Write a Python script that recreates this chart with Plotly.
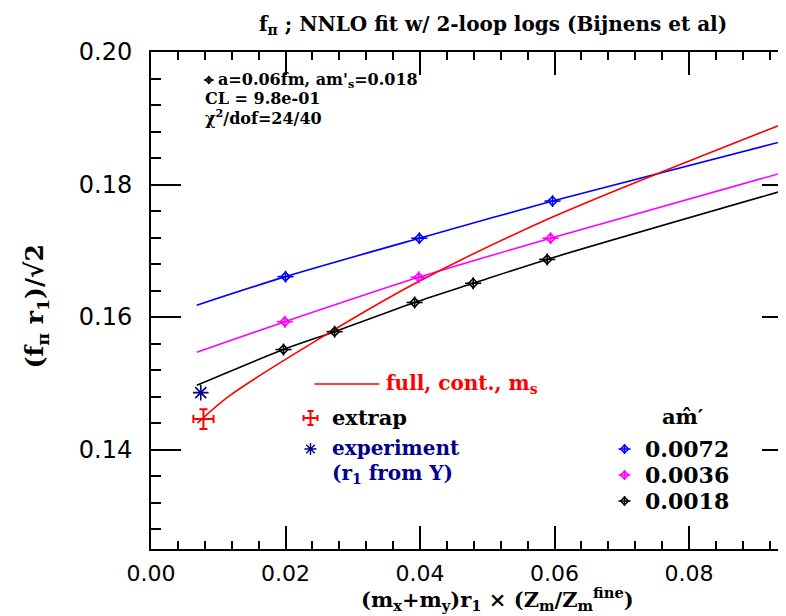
import plotly.graph_objects as go

# ---------------- data ----------------
# fit curves
blue_fit_x = [0.0068, 0.0200, 0.0399, 0.0597, 0.0953]
blue_fit_y = [0.1618, 0.1661, 0.1719, 0.1775, 0.1869]
mag_fit_x = [0.0068, 0.0199, 0.0398, 0.0594, 0.0943]
mag_fit_y = [0.1547, 0.1593, 0.1660, 0.1719, 0.1819]
blk_fit_x = [0.0068, 0.0197, 0.0273, 0.0392, 0.0479, 0.0589, 0.0934]
blk_fit_y = [0.1497, 0.1551, 0.1578, 0.1622, 0.1651, 0.1687, 0.1789]
red_fit_x = [0.0069, 0.0115, 0.0248, 0.0393, 0.0597, 0.0943]
red_fit_y = [0.1440, 0.1480, 0.1566, 0.1651, 0.1751, 0.1893]

# data points
blue_x = [0.0200, 0.0399, 0.0597]
blue_y = [0.1661, 0.1719, 0.1775]
mag_x = [0.0199, 0.0398, 0.0594]
mag_y = [0.1593, 0.1660, 0.1719]
blk_x = [0.0197, 0.0273, 0.0392, 0.0479, 0.0589]
blk_y = [0.1551, 0.1578, 0.1622, 0.1651, 0.1687]
pt_err_x = 0.0012
pt_err_y = 0.0009

extrap_x = [0.0078]
extrap_y = [0.1446]
extrap_err_x = [0.0015]
extrap_err_y = [0.0015]

expt_x = [0.0074]
expt_y = [0.1486]

x_ticks = [0.00, 0.02, 0.04, 0.06, 0.08]
y_ticks = [0.14, 0.16, 0.18, 0.20]

BLUE = "#0000FF"
MAG = "#FF00FF"
BLK = "#000000"
RED = "#FF0000"
NAVY = "#00008B"
SERIF = "DejaVu Serif"
SANS = "DejaVu Sans"

# plot area in pixels
L, R, T, B = 143, 786, 44, 541
W, H = 786, 616


def px(p):
    return (p - L) / (R - L)


def py(p):
    return (B - p) / (B - T)


fig = go.Figure()

# fit curves
for xs, ys, c in [(blue_fit_x, blue_fit_y, BLUE), (mag_fit_x, mag_fit_y, MAG),
                  (blk_fit_x, blk_fit_y, BLK), (red_fit_x, red_fit_y, RED)]:
    fig.add_trace(go.Scatter(x=xs, y=ys, mode="lines",
                             line=dict(color=c, width=1.6, shape="spline", smoothing=0.8),
                             hoverinfo="skip", showlegend=False))

# data points
for xs, ys, c in [(blue_x, blue_y, BLUE), (mag_x, mag_y, MAG), (blk_x, blk_y, BLK)]:
    fig.add_trace(go.Scatter(
        x=xs, y=ys, mode="markers",
        marker=dict(symbol="diamond-open", size=7, color=c, line=dict(width=1.6, color=c)),
        error_x=dict(type="constant", value=pt_err_x, color=c, thickness=1.6, width=0),
        error_y=dict(type="constant", value=pt_err_y, color=c, thickness=1.6, width=0),
        showlegend=False))

# extrapolated point
fig.add_trace(go.Scatter(
    x=extrap_x, y=extrap_y, mode="markers",
    marker=dict(symbol="line-ew", size=6, color=RED, line=dict(width=2, color=RED)),
    error_x=dict(type="data", array=extrap_err_x, color=RED, thickness=2, width=4),
    error_y=dict(type="data", array=extrap_err_y, color=RED, thickness=2, width=4),
    showlegend=False))

# experiment point
fig.add_trace(go.Scatter(
    x=expt_x, y=expt_y, mode="markers",
    marker=dict(symbol="asterisk-open", size=13, color=NAVY, line=dict(width=1.6, color=NAVY)),
    showlegend=False))

# ---------- legend swatches on an overlay axis in [0,1] ----------
sw = dict(xaxis="x2", yaxis="y2", showlegend=False, hoverinfo="skip")
fig.add_trace(go.Scatter(x=[px(307), px(372)], y=[py(376), py(376)], mode="lines",
                         line=dict(color=RED, width=1.6), **sw))
fig.add_trace(go.Scatter(
    x=[px(303)], y=[py(410)], mode="markers",
    marker=dict(symbol="line-ew", size=5, color=RED, line=dict(width=2, color=RED)),
    error_x=dict(type="constant", value=7 / (R - L), color=RED, thickness=2, width=3),
    error_y=dict(type="constant", value=7 / (B - T), color=RED, thickness=2, width=3), **sw))
fig.add_trace(go.Scatter(
    x=[px(303)], y=[py(441)], mode="markers",
    marker=dict(symbol="asterisk-open", size=10, color=NAVY, line=dict(width=1.4, color=NAVY)), **sw))
for yy, c in [(441, BLUE), (467, MAG), (493, BLK)]:
    fig.add_trace(go.Scatter(
        x=[px(618)], y=[py(yy)], mode="markers",
        marker=dict(symbol="diamond-open", size=6, color=c, line=dict(width=1.5, color=c)),
        error_x=dict(type="constant", value=6 / (R - L), color=c, thickness=1.5, width=0),
        error_y=dict(type="constant", value=5 / (B - T), color=c, thickness=1.5, width=0), **sw))
fig.add_trace(go.Scatter(
    x=[px(201)], y=[py(72)], mode="markers",
    marker=dict(symbol="diamond-open", size=5, color=BLK, line=dict(width=1.4, color=BLK)),
    error_x=dict(type="constant", value=5 / (R - L), color=BLK, thickness=1.4, width=0),
    error_y=dict(type="constant", value=4 / (B - T), color=BLK, thickness=1.4, width=0), **sw))

ann = []


def text(x, y, s, size, color=BLK, anchor="left", font=SERIF):
    ann.append(dict(x=px(x), y=py(y), xref="paper", yref="paper", text=s, showarrow=False,
                    xanchor=anchor, yanchor="middle",
                    font=dict(family=font, size=size, color=color)))


text(208, 72, "<b>a=0.06fm, am'<sub>s</sub>=0.018</b>", 16)
text(195, 90, "<b>CL = 9.8e-01</b>", 16)
text(195, 109, "<b>χ<sup>2</sup>/dof=24/40</b>", 16)
text(377, 376, "<b>full, cont., m<sub>s</sub></b>", 20, RED)
text(323, 410, "<b>extrap</b>", 21)
text(323, 440, "<b>experiment</b>", 20, NAVY)
text(323, 466, "<b>(r<sub>1</sub> from Υ)</b>", 20, NAVY)
text(677, 408, "<b>am̂′</b>", 21, anchor="center")
text(637, 441, "<b>0.0072</b>", 22)
text(637, 467, "<b>0.0036</b>", 22)
text(637, 493, "<b>0.0018</b>", 22)
# title
text(486, 17, "<b>f<sub>π</sub> ; NNLO fit w/ 2-loop logs (Bijnens et al)</b>", 20, anchor="center")
# axis titles
text(491, 591, "<b>(m<sub>x</sub>+m<sub>y</sub>)r<sub>1</sub> × (Z<sub>m</sub>/Z<sub>m</sub><sup>fine</sup>)</b>",
     21, anchor="center")
ann.append(dict(x=px(28), y=py(298), xref="paper", yref="paper",
                text="<b>(f<sub>π</sub> r<sub>1</sub>)/√2</b>", showarrow=False, textangle=-90,
                xanchor="center", yanchor="middle", font=dict(family=SERIF, size=25, color=BLK)))

axis_common = dict(showline=True, linecolor=BLK, linewidth=2, mirror="ticks", ticks="inside",
                   tickwidth=2, tickcolor=BLK, showgrid=False, zeroline=False)

fig.update_layout(
    width=W, height=H,
    margin=dict(l=L, r=W - R, t=T, b=H - B, pad=0),
    paper_bgcolor="white", plot_bgcolor="white",
    showlegend=False,
    xaxis=dict(range=[0, 0.0953], tickvals=x_ticks, ticktext=[f"{v:.2f}" for v in x_ticks],
               ticklen=23, ticklabelstandoff=4,
               tickfont=dict(family=SANS, size=22, color=BLK),
               minor=dict(dtick=0.004, tick0=0, ticklen=8, tickwidth=2, tickcolor=BLK, ticks="inside"),
               **axis_common),
    yaxis=dict(range=[0.125, 0.20], tickvals=y_ticks, ticktext=[f"{v:.2f}" for v in y_ticks],
               ticklen=30, ticklabelstandoff=12,
               tickfont=dict(family=SANS, size=24, color=BLK),
               minor=dict(dtick=0.004, tick0=0, ticklen=10, tickwidth=2, tickcolor=BLK, ticks="inside"),
               **axis_common),
    xaxis2=dict(range=[0, 1], overlaying="x", visible=False, fixedrange=True),
    yaxis2=dict(range=[0, 1], overlaying="y", visible=False, fixedrange=True),
    annotations=ann,
)

fig.write_html("out.html")
